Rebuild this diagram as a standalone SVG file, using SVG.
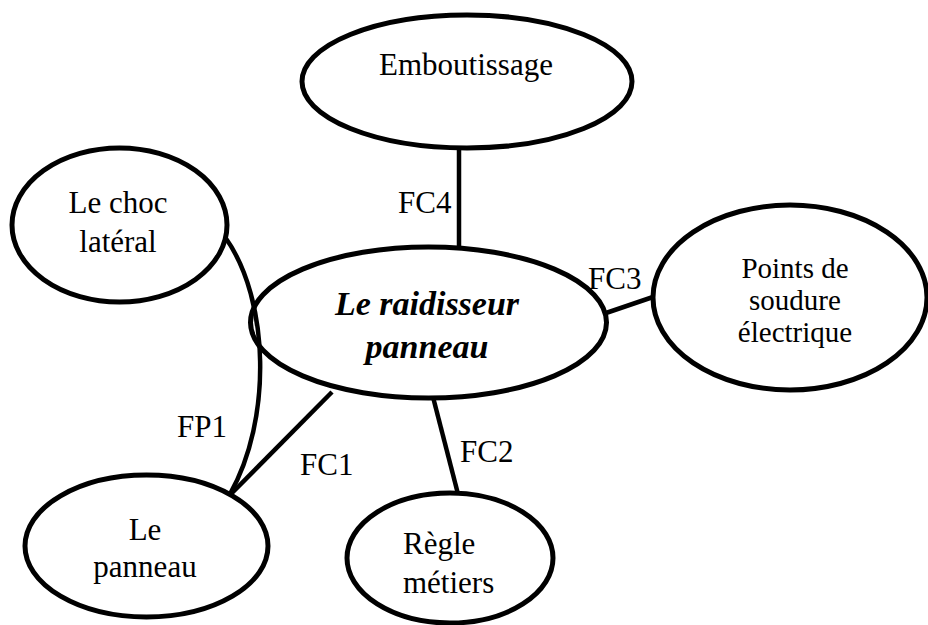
<svg xmlns="http://www.w3.org/2000/svg" width="928" height="625" viewBox="0 0 928 625">
<style>
.n{fill:#fff;stroke:#000;stroke-width:5}
.c{fill:none;stroke:#000;stroke-width:4.5}
text{font-family:"Liberation Serif","Times New Roman",serif;font-size:31px;fill:#000}
.m{text-anchor:middle}
.b{font-weight:bold;font-style:italic;font-size:34px}
.s{font-size:29px}
</style>
<rect width="928" height="625" fill="#fff"/>
<g id="connectors">
<line class="c" x1="459" y1="148" x2="459" y2="248"/>
<line class="c" x1="606" y1="313" x2="653" y2="297"/>
<line class="c" x1="433" y1="397" x2="458" y2="494"/>
<line class="c" x1="332" y1="392" x2="230" y2="495"/>
<path class="c" d="M225,237 C270,300 272,420 230,494"/>
<text x="398" y="213">FC4</text>
<text x="588" y="289">FC3</text>
<text x="460" y="462">FC2</text>
<text x="300" y="475">FC1</text>
<text x="177" y="437">FP1</text>
</g>
<g id="emboutissage">
<ellipse class="n" cx="467" cy="81.5" rx="165" ry="66.5"/>
<text class="m" x="466" y="75">Emboutissage</text>
</g>
<g id="choc">
<ellipse class="n" cx="119.5" cy="225" rx="107.5" ry="77"/>
<text class="m" x="118" y="213">Le choc</text>
<text class="m" x="118" y="252">latéral</text>
</g>
<g id="raidisseur">
<ellipse class="n" cx="428.5" cy="322.5" rx="178" ry="75.5" fill-opacity="0"/>
<text class="m b" x="427" y="315">Le raidisseur</text>
<text class="m b" x="427" y="358">panneau</text>
</g>
<g id="soudure">
<ellipse class="n" cx="790" cy="297.5" rx="137" ry="92.5"/>
<text class="m s" x="795" y="278">Points de</text>
<text class="m s" x="795" y="310">soudure</text>
<text class="m s" x="795" y="342">électrique</text>
</g>
<g id="panneau">
<ellipse class="n" cx="146.5" cy="546" rx="121.5" ry="71"/>
<text class="m" x="145" y="540">Le</text>
<text class="m" x="145" y="577">panneau</text>
</g>
<g id="regle">
<ellipse class="n" cx="450" cy="558" rx="103" ry="65"/>
<text x="403" y="554">Règle</text>
<text x="403" y="593">métiers</text>
</g>
</svg>
